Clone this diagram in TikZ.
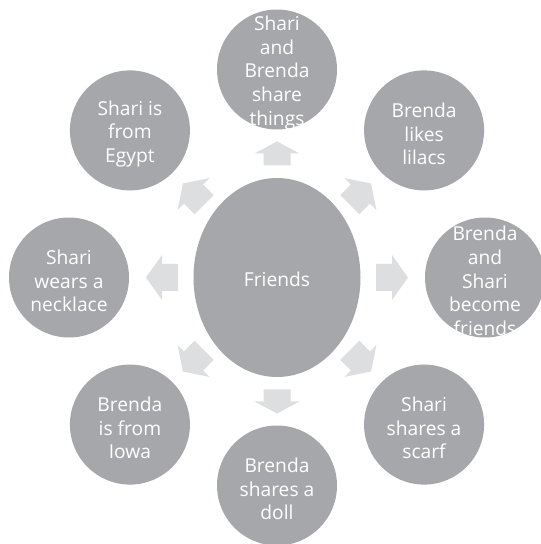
\documentclass[tikz,border=0pt]{standalone}
\usepackage{fontspec}
\setmainfont{Open Sans}
\usetikzlibrary{shapes.geometric,calc}

\definecolor{bubblegray}{RGB}{166,167,171}
\definecolor{arrowgray}{RGB}{221,222,223}

\tikzset{
  bubble/.style={circle, fill=bubblegray, draw=none, minimum size=120pt, inner sep=0pt},
  hub/.style={ellipse, fill=bubblegray, draw=none, minimum width=167pt, minimum height=199pt,
    inner sep=0pt},
  caption/.style={text=white, align=center, inner sep=0pt, yshift=-3.5pt,
    font=\fontsize{19.2}{23.7}\selectfont},
  blockfill/.style={fill=arrowgray, draw=none}
}

\begin{document}
\begin{tikzpicture}[x=1pt, y=1pt]
  \useasboundingbox (0,0) rectangle (541,544);
  \fill[white] (0,0) rectangle (541,544);
  \clip (0,0) rectangle (541,544);

  % central topic
  \node[hub] (hub) at (277,266.5) {};
  \node[caption, yshift=2pt] (hub-t) at (hub) {Friends};

  % surrounding ideas
  \node[bubble] (n)  at ($(hub.center)+(90:208)$)   {};
  \node[bubble] (ne) at ($(hub.center)+(45:208)$)   {};
  \node[bubble] (e)  at ($(hub.center)+(0:208)$)    {};
  \node[bubble] (se) at ($(hub.center)+(-45:208)$)  {};
  \node[bubble] (s)  at ($(hub.center)+(-90:208)$)  {};
  \node[bubble] (sw) at ($(hub.center)+(-135:208)$) {};
  \node[bubble] (w)  at ($(hub.center)+(180:208)$)  {};
  \node[bubble] (nw) at ($(hub.center)+(135:208)$)  {};

  \node[caption] (n-t)  at (n)  {Shari\\and\\Brenda\\share\\things};
  \node[caption] (ne-t) at (ne) {Brenda\\likes\\lilacs};
  \node[caption] (e-t)  at (e)  {Brenda\\and\\Shari\\become\\friends};
  \node[caption] (se-t) at (se) {Shari\\shares a\\scarf};
  \node[caption] (s-t)  at (s)  {Brenda\\shares a\\doll};
  \node[caption] (sw-t) at (sw) {Brenda\\is from\\Iowa};
  \node[caption] (w-t)  at (w)  {Shari\\wears a\\necklace};
  \node[caption] (nw-t) at (nw) {Shari is\\from\\Egypt};

  % block arrows pointing outwards: angle / length / head length / distance from hub
  \foreach \ang/\len/\hd/\dist in {90/24/12/124, 45/30/15/118, 0/32/16/115, -45/30/15/118,
                                   -90/24/12/124, -135/30/15/118, 180/32/16/115, 135/30/15/118} {
    \begin{scope}[shift={(hub.center)}, rotate=\ang, shift={(\dist,0)}]
      \fill[blockfill] (-\len/2,13.5) -- (\len/2-\hd,13.5) -- (\len/2-\hd,22.5) -- (\len/2,0)
        -- (\len/2-\hd,-22.5) -- (\len/2-\hd,-13.5) -- (-\len/2,-13.5) -- cycle;
    \end{scope}
  }
\end{tikzpicture}
\end{document}
